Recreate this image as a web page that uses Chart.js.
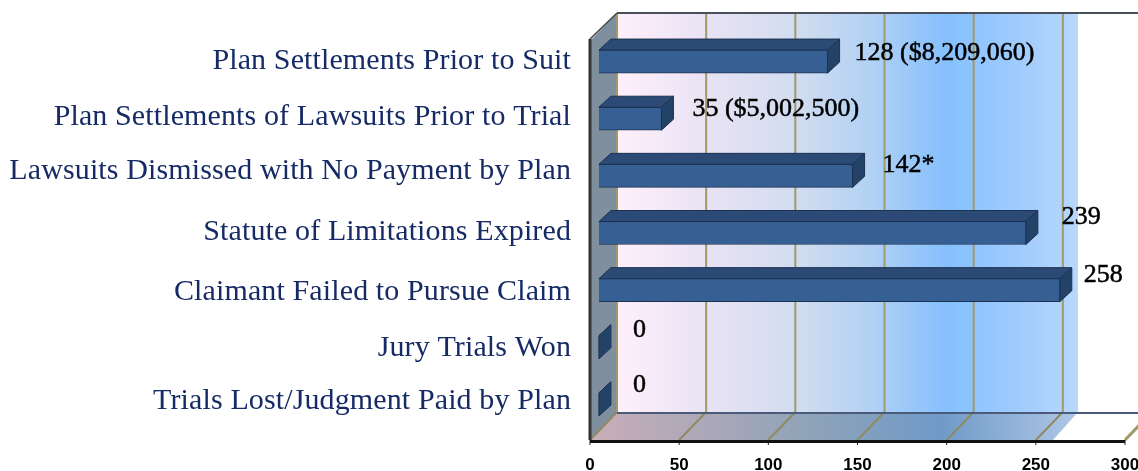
<!DOCTYPE html>
<html>
<head>
<meta charset="utf-8">
<title>Claims outcome chart</title>
<script src="https://cdn.jsdelivr.net/npm/chart.js@4"></script>
<style>
  html, body { margin: 0; padding: 0; background: #fff; overflow: hidden; }
  canvas { display: block; }
</style>
</head>
<body>
<canvas id="claimsChart" width="1138" height="471"></canvas>
<script>
// Data
const categories = [
  'Plan Settlements Prior to Suit',
  'Plan Settlements of Lawsuits Prior to Trial',
  'Lawsuits Dismissed with No Payment by Plan',
  'Statute of Limitations Expired',
  'Claimant Failed to Pursue Claim',
  'Jury Trials Won',
  'Trials Lost/Judgment Paid by Plan'
];
const claimCounts = [128, 35, 142, 239, 258, 0, 0];
const valueLabels = ['128 ($8,209,060)', '35 ($5,002,500)', '142*', '239', '258', '0', '0'];
const axisTicks = [0, 50, 100, 150, 200, 250, 300];

// The labels in the original sit a bit off their rows
const categoryNudge = [0, -2, -5, -1, 2, 1, -3];
const valueNudgeX = [27, 31, 30, 36, 24, 34, 34];
const valueNudgeY = [-8, -10, -11, -16, -15, -17, -19];

const wallDx = 27, wallDy = 28;   // depth of the box
const barDx = 12, barDy = 11;     // depth of a bar
const wallEnd = 1078;             // the coloured part stops here

const poly = (ctx, pts, fill) => {
  ctx.beginPath();
  pts.forEach((p, i) => i ? ctx.lineTo(p[0], p[1]) : ctx.moveTo(p[0], p[1]));
  ctx.closePath();
  if (fill) { ctx.fillStyle = fill; ctx.fill(); }
};

const line = (ctx, x1, y1, x2, y2, color, width) => {
  ctx.beginPath();
  ctx.moveTo(x1, y1);
  ctx.lineTo(x2, y2);
  ctx.strokeStyle = color;
  ctx.lineWidth = width;
  ctx.stroke();
};

const scenery = {
  id: 'scenery',
  beforeDatasetsDraw(chart) {
    const ctx = chart.ctx, x = chart.scales.x;
    const left = x.left, front = chart.chartArea.bottom + 7;
    const back = front - wallDy, top = 13;
    ctx.save();

    // back wall
    const wall = ctx.createLinearGradient(left + wallDx, 0, wallEnd, 0);
    wall.addColorStop(0, '#fff0fb');
    wall.addColorStop(0.2, '#e8e2f4');
    wall.addColorStop(0.4, '#d0dcf0');
    wall.addColorStop(0.55, '#b2d1f4');
    wall.addColorStop(0.715, '#85c0fd');
    wall.addColorStop(0.9, '#a5cefd');
    wall.addColorStop(1, '#b8d8fd');
    ctx.fillStyle = wall;
    ctx.fillRect(left + wallDx, top, wallEnd - left - wallDx, back - top);

    // floor
    const floor = ctx.createLinearGradient(left, front, wallEnd, back);
    floor.addColorStop(0, '#c9aeb8');
    floor.addColorStop(0.45, '#8fa3b8');
    floor.addColorStop(0.72, '#6f9ac8');
    floor.addColorStop(1, '#b0c8e6');
    poly(ctx, [[left, front], [left + wallDx, back], [wallEnd, back], [wallEnd - wallDx + 2, front]], floor);

    // left wall
    poly(ctx, [[left, top + wallDy], [left + wallDx, top], [left + wallDx, back], [left, front]], '#7f8f9e');

    // grid lines run over floor and back wall
    axisTicks.forEach(t => {
      const px = x.getPixelForValue(t);
      line(ctx, px, front, px + wallDx, back, t === 300 ? '#a09a6a' : '#8f8a60', t === 300 ? 3 : 2);
      line(ctx, px + wallDx, back, px + wallDx, top, '#a09a6a', 2);
      line(ctx, px, front, px, front + 5, '#222', 1);
    });

    // box edges
    line(ctx, left + wallDx, top, 1138, top, '#4a4f5c', 2);
    line(ctx, left + wallDx, back + 1, 1138, back + 1, '#4a5a78', 2);
    line(ctx, left, front + 1.5, x.right, front + 1.5, '#111', 3);
    line(ctx, left, top + wallDy - 2, left, front, '#333', 3);
    line(ctx, left, top + wallDy - 2, left + wallDx, top, '#444', 1.5);

    // sides of the bars, the fronts are drawn by the chart
    chart.getDatasetMeta(0).data.forEach(bar => {
      const y1 = bar.y - bar.height / 2, y2 = bar.y + bar.height / 2;
      poly(ctx, [[bar.base, y1], [bar.base + barDx, y1 - barDy], [bar.x + barDx, y1 - barDy], [bar.x, y1]], '#2b4a75');
      ctx.strokeStyle = '#1c3252'; ctx.lineWidth = 1; ctx.stroke();
      poly(ctx, [[bar.x, y1], [bar.x + barDx, y1 - barDy], [bar.x + barDx, y2 - barDy], [bar.x, y2]], '#234268');
      ctx.strokeStyle = '#1c3252'; ctx.lineWidth = 1; ctx.stroke();
    });
    ctx.restore();
  },
  afterDatasetsDraw(chart) {
    const ctx = chart.ctx, y = chart.scales.y;
    ctx.save();
    ctx.textBaseline = 'middle';

    ctx.textAlign = 'right';
    ctx.fillStyle = '#162b66';
    ctx.font = '30px "Liberation Serif"';
    ctx.letterSpacing = '0.12px';
    categories.forEach((label, i) => {
      ctx.fillText(label, 571, y.getPixelForTick(i) + categoryNudge[i]);
    });
    ctx.letterSpacing = '0px';

    ctx.textAlign = 'left';
    ctx.fillStyle = '#000';
    ctx.strokeStyle = '#000';
    ctx.lineWidth = 0.5;
    ctx.font = '26px "Liberation Serif"';
    chart.getDatasetMeta(0).data.forEach((bar, i) => {
      const tx = bar.x + valueNudgeX[i], ty = bar.y + valueNudgeY[i];
      ctx.fillText(valueLabels[i], tx, ty);
      ctx.strokeText(valueLabels[i], tx, ty);
    });
    ctx.restore();
  }
};

new Chart(document.getElementById('claimsChart'), {
  type: 'bar',
  data: {
    labels: categories,
    datasets: [{
      data: claimCounts,
      xAxisID: 'barX',
      backgroundColor: '#365f94',
      borderColor: '#1c3252',
      borderWidth: 1,
      barThickness: 23
    }]
  },
  options: {
    indexAxis: 'y',
    responsive: false,
    animation: false,
    layout: { padding: { left: 590, right: 13, top: 33, bottom: 0 } },
    plugins: { legend: { display: false }, tooltip: { enabled: false } },
    scales: {
      x: {
        min: 0,
        max: 300,
        afterBuildTicks: scale => { scale.ticks = axisTicks.map(value => ({ value })); },
        afterFit: scale => { scale.height = 38; scale.paddingLeft = 0; scale.paddingRight = 0; },
        border: { display: false },
        grid: { display: false, drawTicks: false },
        ticks: {
          padding: 22,
          maxRotation: 0,
          color: '#000',
          font: { family: '"Liberation Sans"', size: 17, weight: 'bold' }
        }
      },
      // same units as x, only shifted: bars stand a little off the left wall
      barX: { display: false, min: -5, max: 294.5 },
      y: { display: false }
    }
  },
  plugins: [scenery]
});
</script>
</body>
</html>
